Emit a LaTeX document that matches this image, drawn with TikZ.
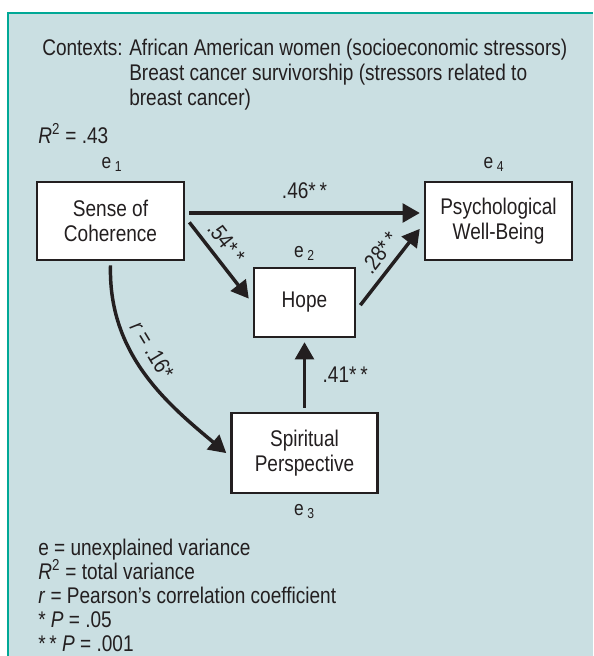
\documentclass[tikz,border=0pt]{standalone}
\usepackage{fontspec}
\setmainfont{Liberation Sans}[FakeStretch=0.84]
\usetikzlibrary{arrows}

\definecolor{panel}{RGB}{202,223,226}
\definecolor{rim}{RGB}{0,168,150}
\definecolor{ink}{RGB}{35,31,32}

\begin{document}
\begin{tikzpicture}[x=0.75pt,y=-0.75pt,
  font=\fontsize{17}{18.5}\selectfont, color=ink,
  box/.style={draw=ink, fill=white, line width=1.8pt, align=center, inner sep=0pt, outer sep=4pt},
  arr/.style={-triangle 60, line width=2.6pt},
  txt/.style={anchor=base west, inner sep=0pt},
  err/.style={anchor=base, inner sep=0pt, font=\fontsize{15.5}{17}\selectfont}]

\useasboundingbox (0,0) rectangle (593,656);
\fill[panel] (8,13) rectangle (593,656);
\draw[rim, line width=1.8pt] (8,656) -- (8,13) -- (593,13);

% contexts
\node[txt] (ctxhead) at (42,56) {Contexts:};
\node[txt] (ctxlist) at (129,56) {\begin{tabular}[t]{@{}l@{}}
  African American women (socioeconomic stressors)\\
  Breast cancer survivorship (stressors related to\\
  breast cancer)
\end{tabular}};
\node[txt] (rsq) at (38,143) {\textit{R}\textsuperscript{2} = .43};

% boxes
\node[box, minimum width=110.25pt, minimum height=58.5pt] (soc) at (110.5,221) {Sense of\\Coherence};
\node[box, minimum width=110.25pt, minimum height=58.5pt] (psy) at (498.5,221) {Psychological\\Well-Being};
\node[box, minimum width=75.75pt, minimum height=51.75pt] (hope) at (304.5,302.5) {Hope};
\node[box, minimum width=109.5pt, minimum height=60pt] (sp) at (304.5,453) {Spiritual\\Perspective};

% unexplained variance
\node[err] (e1) at (112,168) {e\,\textsubscript{1}};
\node[err] (e2) at (304.5,257) {e\,\textsubscript{2}};
\node[err] (e3) at (304.5,515) {e\,\textsubscript{3}};
\node[err] (e4) at (494,168) {e\,\textsubscript{4}};

% paths
\draw[arr] ([yshift=6pt]soc.east) -- ([yshift=6pt]psy.west) node[midway, above=6pt] {.46*\,*};
\draw[arr] ([yshift=-1pt]soc.east) -- ([yshift=3pt]hope.west) node[pos=0.4, sloped, above=2pt] {.54*\,*};
\draw[arr] ([yshift=-2pt]hope.east) -- ([yshift=-6pt]psy.west) node[pos=0.55, sloped, above=2pt] {.28*\,*};
\draw[arr] (sp) -- (hope) node[midway, right=9pt] {.41*\,*};
\draw[arr] (soc.south) .. controls (108,360) and (175,410) .. (sp.west) node[pos=0.4, sloped, above=4pt] {\textit{r} = .16*};

% legend
\node[txt] (lg1) at (38,555) {e = unexplained variance};
\node[txt] (lg2) at (38,579) {\textit{R}\textsuperscript{2} = total variance};
\node[txt] (lg3) at (38,603) {\textit{r} = Pearson's correlation coefficient};
\node[txt] (lg4) at (38,627) {* \textit{P} = .05};
\node[txt] (lg5) at (38,651) {*\,* \textit{P} = .001};
\end{tikzpicture}
\end{document}
